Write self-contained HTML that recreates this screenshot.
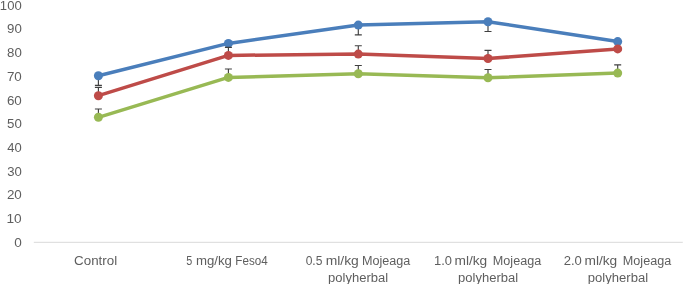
<!DOCTYPE html>
<html><head><meta charset="utf-8">
<style>
html,body{margin:0;padding:0;background:#fff;}
svg{display:block;will-change:transform;}
text{font-family:"Liberation Sans",sans-serif;font-size:12px;fill:#5e5e5e;}
</style></head>
<body>
<svg width="685" height="284" viewBox="0 0 685 284">
<rect width="685" height="284" fill="#fff"/>
<line x1="33.8" y1="242.3" x2="682.8" y2="242.3" stroke="#d9d9d9" stroke-width="1"/>

<g>
<text x="-0.15" y="9.60" textLength="21.81" lengthAdjust="spacingAndGlyphs">100</text>
<text x="7.02" y="33.33" textLength="14.76" lengthAdjust="spacingAndGlyphs">90</text>
<text x="7.02" y="57.06" textLength="14.76" lengthAdjust="spacingAndGlyphs">80</text>
<text x="6.90" y="80.79" textLength="14.91" lengthAdjust="spacingAndGlyphs">70</text>
<text x="6.90" y="104.52" textLength="14.91" lengthAdjust="spacingAndGlyphs">60</text>
<text x="7.02" y="128.25" textLength="14.76" lengthAdjust="spacingAndGlyphs">50</text>
<text x="7.27" y="151.98" textLength="14.47" lengthAdjust="spacingAndGlyphs">40</text>
<text x="7.15" y="175.71" textLength="14.63" lengthAdjust="spacingAndGlyphs">30</text>
<text x="6.90" y="199.44" textLength="14.92" lengthAdjust="spacingAndGlyphs">20</text>
<text x="6.52" y="223.17" textLength="15.23" lengthAdjust="spacingAndGlyphs">10</text>
<text x="14.17" y="246.90" textLength="7.56" lengthAdjust="spacingAndGlyphs">0</text>
<text x="74.07" y="264.60" textLength="43.10" lengthAdjust="spacingAndGlyphs">Control</text>
<text><tspan x="186.15" y="264.60" textLength="6.01" lengthAdjust="spacingAndGlyphs">5</tspan> <tspan x="195.95" y="264.60" textLength="36.00" lengthAdjust="spacingAndGlyphs">mg/kg</tspan> <tspan x="235.30" y="264.60" textLength="32.37" lengthAdjust="spacingAndGlyphs">Feso4</tspan></text>
<text><tspan x="305.65" y="264.60" textLength="16.72" lengthAdjust="spacingAndGlyphs">0.5</tspan> <tspan x="325.65" y="264.60" textLength="33.14" lengthAdjust="spacingAndGlyphs">ml/kg</tspan> <tspan x="362.03" y="264.60" textLength="48.36" lengthAdjust="spacingAndGlyphs">Mojeaga</tspan> <tspan x="328.10" y="281.60" textLength="60.04" lengthAdjust="spacingAndGlyphs">polyherbal</tspan></text>
<text><tspan x="433.97" y="264.60" textLength="17.92" lengthAdjust="spacingAndGlyphs">1.0</tspan> <tspan x="454.47" y="264.60" textLength="32.79" lengthAdjust="spacingAndGlyphs">ml/kg</tspan> <tspan x="492.85" y="264.60" textLength="48.36" lengthAdjust="spacingAndGlyphs">Mojeaga</tspan> <tspan x="458.10" y="281.60" textLength="60.04" lengthAdjust="spacingAndGlyphs">polyherbal</tspan></text>
<text><tspan x="563.72" y="264.60" textLength="18.16" lengthAdjust="spacingAndGlyphs">2.0</tspan> <tspan x="584.47" y="264.60" textLength="32.79" lengthAdjust="spacingAndGlyphs">ml/kg</tspan> <tspan x="622.85" y="264.60" textLength="48.36" lengthAdjust="spacingAndGlyphs">Mojeaga</tspan> <tspan x="587.78" y="281.60" textLength="60.32" lengthAdjust="spacingAndGlyphs">polyherbal</tspan></text>
</g>
<g stroke="#404040" stroke-width="1.15" fill="none"><path d="M98.40 75.70V85.40M94.90 85.40H101.90"/><path d="M358.30 25.10V34.90M354.80 34.90H361.80"/><path d="M488.00 21.70V31.50M484.50 31.50H491.50"/></g><polyline fill="none" stroke="#4a7ebb" stroke-width="3.5" stroke-linejoin="round" stroke-linecap="round" points="98.4,75.7 228.4,43.4 358.3,25.1 488.0,21.7 617.7,41.6"/><g fill="#4a7ebb"><circle cx="98.4" cy="75.7" r="4.5"/><circle cx="228.4" cy="43.4" r="4.5"/><circle cx="358.3" cy="25.1" r="4.5"/><circle cx="488.0" cy="21.7" r="4.5"/><circle cx="617.7" cy="41.6" r="4.5"/></g>
<g stroke="#404040" stroke-width="1.15" fill="none"><path d="M98.40 95.70V87.40M94.90 87.40H101.90"/><path d="M228.40 55.40V47.30M224.90 47.30H231.90"/><path d="M358.30 54.10V45.70M354.80 45.70H361.80"/><path d="M488.00 58.50V50.40M484.50 50.40H491.50"/></g><polyline fill="none" stroke="#be4b48" stroke-width="3.5" stroke-linejoin="round" stroke-linecap="round" points="98.4,95.7 228.4,55.4 358.3,54.1 488.0,58.5 617.7,48.9"/><g fill="#be4b48"><circle cx="98.4" cy="95.7" r="4.5"/><circle cx="228.4" cy="55.4" r="4.5"/><circle cx="358.3" cy="54.1" r="4.5"/><circle cx="488.0" cy="58.5" r="4.5"/><circle cx="617.7" cy="48.9" r="4.5"/></g>
<g stroke="#404040" stroke-width="1.15" fill="none"><path d="M98.40 117.30V109.00M94.90 109.00H101.90"/><path d="M228.40 77.40V69.00M224.90 69.00H231.90"/><path d="M358.30 73.80V65.50M354.80 65.50H361.80"/><path d="M488.00 77.80V69.50M484.50 69.50H491.50"/><path d="M617.70 73.10V64.85M614.20 64.85H621.20"/></g><polyline fill="none" stroke="#98b954" stroke-width="3.5" stroke-linejoin="round" stroke-linecap="round" points="98.4,117.3 228.4,77.4 358.3,73.8 488.0,77.8 617.7,73.1"/><g fill="#98b954"><circle cx="98.4" cy="117.3" r="4.5"/><circle cx="228.4" cy="77.4" r="4.5"/><circle cx="358.3" cy="73.8" r="4.5"/><circle cx="488.0" cy="77.8" r="4.5"/><circle cx="617.7" cy="73.1" r="4.5"/></g>
</svg>
</body></html>
